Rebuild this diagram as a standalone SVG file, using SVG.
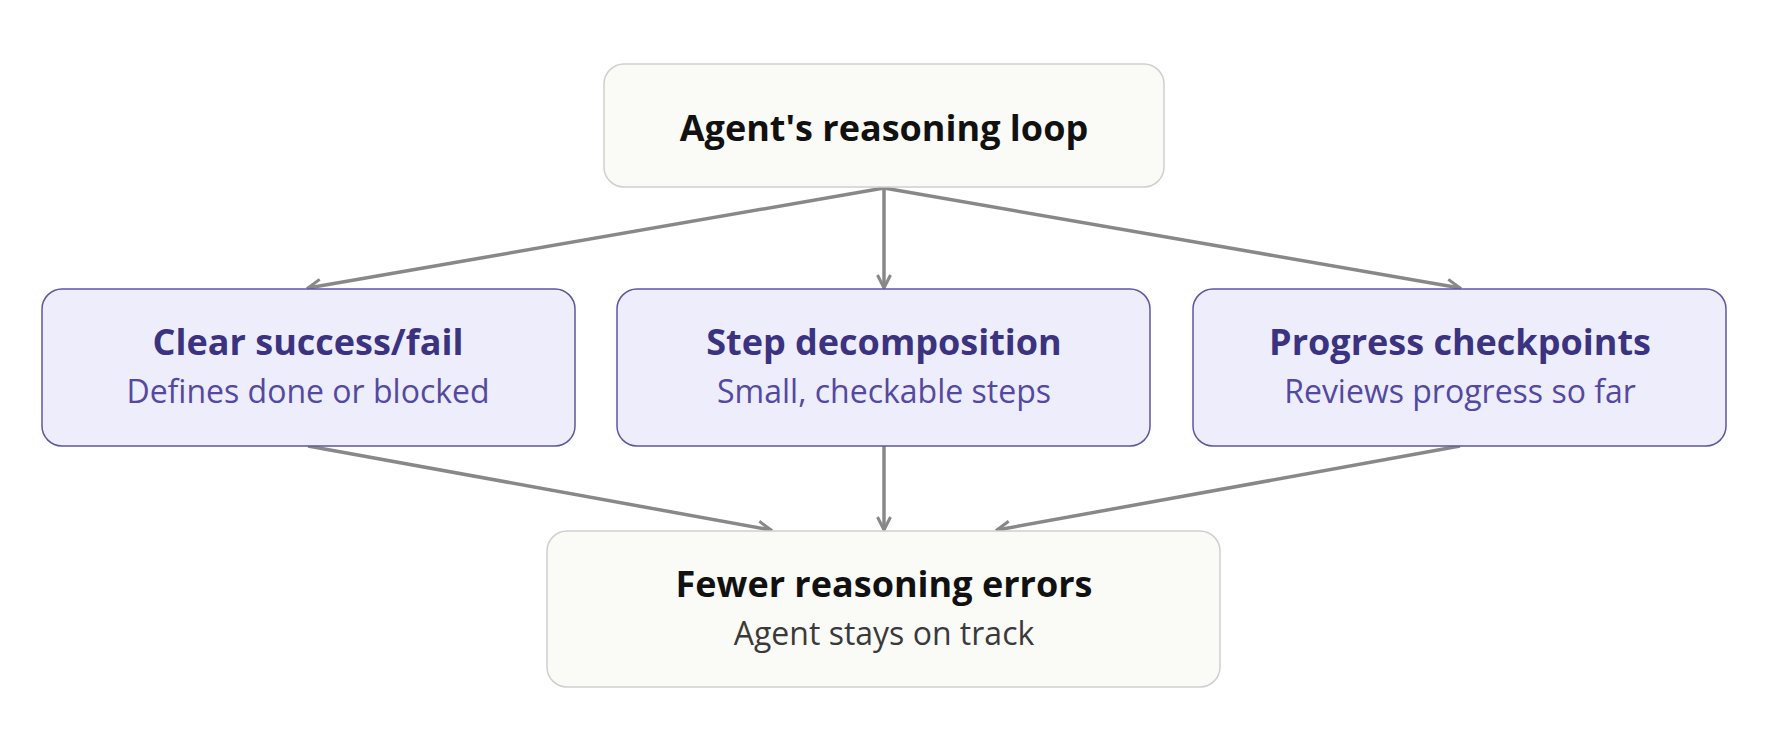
<svg xmlns="http://www.w3.org/2000/svg" width="1770" height="747" viewBox="0 0 1770 747">
<style>
.bg{fill:#ffffff}
.nbox{fill:#fafaf7;stroke:#cfcfcf;stroke-width:1.5}
.pbox{fill:#ededfc;stroke:#5d559e;stroke-width:1.5}
.t{font-family:"Open Sans","Noto Sans",sans-serif;text-anchor:middle}
.tb{font-weight:700;font-size:36px;fill:#111111}
.ts{font-size:32px;fill:#3a3a3a}
.pt{font-weight:700;font-size:36px;fill:#3b3380}
.ps{font-size:32px;fill:#5449a0}
.edge{stroke:#888888;stroke-width:3.5;fill:none;marker-end:url(#arr)}
</style>
<defs>
<marker id="arr" viewBox="0 0 16 16" refX="14.5" refY="8" markerWidth="16" markerHeight="16" markerUnits="userSpaceOnUse" orient="auto">
<path d="M1.5,1.5 L14.5,8 L1.5,14.5" fill="none" stroke="#888888" stroke-width="3"/>
</marker>
</defs>
<rect class="bg" x="0" y="0" width="1770" height="747"/>
<g id="connectors">
<path class="edge" d="M884,188 L308,288"/>
<path class="edge" d="M884,188 L884,288"/>
<path class="edge" d="M884,188 L1460,288"/>
<path class="edge" d="M308,446 L771,530"/>
<path class="edge" d="M884,446 L884,530"/>
<path class="edge" d="M1460,446 L997,530"/>
</g>
<g id="node-top">
<rect class="nbox" x="604" y="64" width="560" height="123" rx="20"/>
<text class="t tb" x="884" y="141">Agent's reasoning loop</text>
</g>
<g id="node-clear">
<rect class="pbox" x="42" y="289" width="533" height="157" rx="20"/>
<text class="t pt" x="308" y="355">Clear success/fail</text>
<text class="t ps" x="308" y="403">Defines done or blocked</text>
</g>
<g id="node-step">
<rect class="pbox" x="617" y="289" width="533" height="157" rx="20"/>
<text class="t pt" x="884" y="355">Step decomposition</text>
<text class="t ps" x="884" y="403">Small, checkable steps</text>
</g>
<g id="node-progress">
<rect class="pbox" x="1193" y="289" width="533" height="157" rx="20"/>
<text class="t pt" x="1460" y="355">Progress checkpoints</text>
<text class="t ps" x="1460" y="403">Reviews progress so far</text>
</g>
<g id="node-bottom">
<rect class="nbox" x="547" y="531" width="673" height="156" rx="20"/>
<text class="t tb" x="884" y="597">Fewer reasoning errors</text>
<text class="t ts" x="884" y="645">Agent stays on track</text>
</g>
</svg>
